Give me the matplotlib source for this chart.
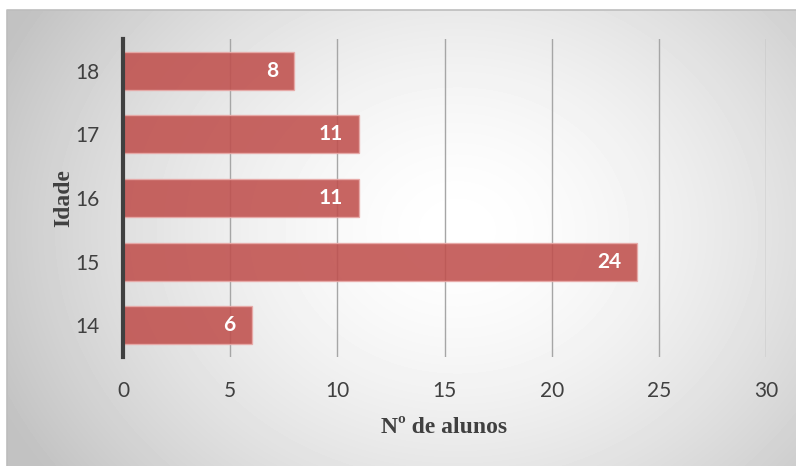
import numpy as np
import matplotlib.pyplot as plt

idades = ["14", "15", "16", "17", "18"]
alunos = [6, 24, 11, 11, 8]
x_ticks = [0, 5, 10, 15, 20, 25, 30]

fig = plt.figure(figsize=(7.96, 4.66), dpi=100)

# radial gradient background inside the frame
bg = fig.add_axes([7 / 796, 0, 1 - 7 / 796, 1 - 10 / 466])
yy, xx = np.mgrid[0:456, 0:789]
cx, cy = 450, 220
r = np.sqrt(((xx - cx) / 1.2) ** 2 + (yy - cy) ** 2)
shade = np.clip(1 - 0.25 * (r / 430) ** 1.6, 0.76, 1)
bg.imshow(shade, cmap="gray", vmin=0, vmax=1, aspect="auto", interpolation="bilinear")
bg.set_axis_off()
fig.add_artist(plt.Line2D([7 / 796, 7 / 796, 1], [0, 1 - 10 / 466, 1 - 10 / 466],
                          color="#bdbdbd", lw=1.2, transform=fig.transFigure))

ax = fig.add_axes([123 / 796, 1 - 357 / 466, (766 - 123) / 796, (357 - 39) / 466])
ax.patch.set_alpha(0)

ypos = np.arange(len(idades))
ax.barh(ypos, alunos, height=0.6, color="#C0504D", alpha=0.88,
        edgecolor="#e8aaa8", linewidth=1, zorder=3)
for y, v in zip(ypos, alunos):
    ax.text(v - 0.75, y, str(v), ha="right", va="center", color="white",
            fontsize=15, fontweight="bold", family="Lato", zorder=4)

ax.set_xlim(0, 30)
ax.set_ylim(-0.5, len(idades) - 0.5)
ax.set_xticks(x_ticks)
ax.set_yticks(ypos)
ax.set_yticklabels(idades)
ax.tick_params(length=0, labelsize=15, colors="#404040", pad=17)
for lbl in ax.get_xticklabels() + ax.get_yticklabels():
    lbl.set_family("Lato")
ax.xaxis.grid(True, color="#a6a6a6", lw=1, zorder=0)
for s in ["top", "right", "bottom"]:
    ax.spines[s].set_visible(False)
ax.spines["left"].set_color("#404040")
ax.spines["left"].set_linewidth(3)
ax.spines["left"].set_zorder(5)

ax.set_xlabel("Nº de alunos", family="Liberation Serif", fontweight="bold",
              fontsize=17, color="#404040", labelpad=12)
ax.set_ylabel("Idade", family="Liberation Serif", fontweight="bold",
              fontsize=17, color="#404040", labelpad=1)

fig.savefig("out.png", dpi=100)
